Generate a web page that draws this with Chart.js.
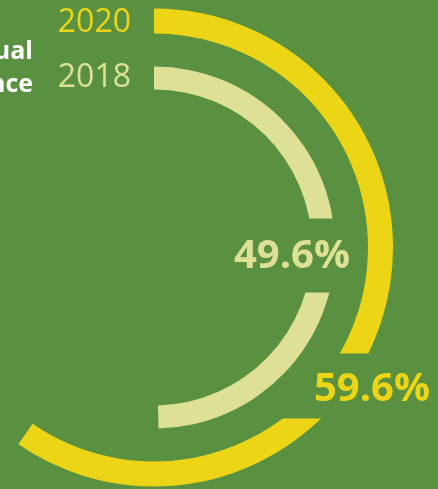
<!DOCTYPE html>
<html>
<head>
<meta charset="utf-8">
<script src="https://cdn.jsdelivr.net/npm/chart.js@4"></script>
<style>
  html, body { margin: 0; padding: 0; background: #5a9140; overflow: hidden; }
  #wrap { position: relative; width: 438px; height: 489px; }
</style>
</head>
<body>
<div id="wrap"><canvas id="myChart"></canvas></div>
<script>
const years = ['2020', '2018'];
const shares = [59.6, 49.6];
const colors = ['#ecd516', '#dfe098'];
const bg = '#5a9140';

const ctx = document.getElementById('myChart');

// outer ring, spacer ring, inner ring
const datasets = [
    {
        label: years[0],
        data: [shares[0], 100 - shares[0]],
        backgroundColor: [colors[0], 'rgba(0,0,0,0)'],
        weight: 25
    },
    {
        label: 'gap',
        data: [100],
        backgroundColor: ['rgba(0,0,0,0)'],
        weight: 33
    },
    {
        label: years[1],
        data: [shares[1], 100 - shares[1]],
        backgroundColor: [colors[1], 'rgba(0,0,0,0)'],
        weight: 23
    }
];

const labels = {
    id: 'labels',
    afterDatasetsDraw(chart) {
        const c = chart.ctx;
        const outer = chart.getDatasetMeta(0).data[0];
        const inner = chart.getDatasetMeta(2).data[0];
        const cx = outer.x, cy = outer.y;

        // knock a hole in the outer ring for its value
        c.save();
        c.beginPath();
        c.arc(cx, cy, outer.outerRadius + 1, 0, Math.PI * 2);
        c.arc(cx, cy, outer.innerRadius - 1, 0, Math.PI * 2, true);
        c.clip('evenodd');
        c.fillStyle = bg;
        c.fillRect(cx + 100, cy + 106, 200, 65);
        c.restore();

        // and in the inner ring
        c.save();
        c.beginPath();
        c.arc(cx, cy, inner.outerRadius + 1, 0, Math.PI * 2);
        c.arc(cx, cy, inner.innerRadius - 1, 0, Math.PI * 2, true);
        c.clip('evenodd');
        c.fillStyle = bg;
        c.fillRect(cx + 60, cy - 29, 160, 74);
        c.restore();

        c.save();
        c.textBaseline = 'middle';
        c.textAlign = 'center';
        c.font = 'bold 40px "Open Sans"';
        c.fillStyle = colors[1];
        c.fillText(shares[1].toFixed(1) + '%', 292, 257);
        c.fillStyle = colors[0];
        c.fillText(shares[0].toFixed(1) + '%', 372, 390);

        c.textAlign = 'right';
        c.font = '32px "Open Sans"';
        c.fillStyle = colors[0];
        c.fillText(years[0], 131, 23);
        c.fillStyle = colors[1];
        c.fillText(years[1], 131, 78);

        c.textBaseline = 'alphabetic';
        c.font = 'bold 25px "Open Sans"';
        c.fillStyle = '#ffffff';
        c.fillText('Annual', 33, 59);
        c.fillText('performance', 33, 92);
        c.restore();
    }
};

new Chart(ctx, {
    type: 'doughnut',
    data: {
        labels: ['share', 'rest'],
        datasets: datasets
    },
    options: {
        responsive: true,
        maintainAspectRatio: false,
        animation: false,
        events: [],
        radius: 239,
        cutout: (158 / 239 * 100) + '%',
        borderWidth: 0,
        clip: false,
        layout: {
            padding: { left: 0, right: 130, top: 6, bottom: 0 }
        },
        plugins: {
            legend: { display: false },
            tooltip: { enabled: false }
        }
    },
    plugins: [labels]
});
</script>
</body>
</html>
